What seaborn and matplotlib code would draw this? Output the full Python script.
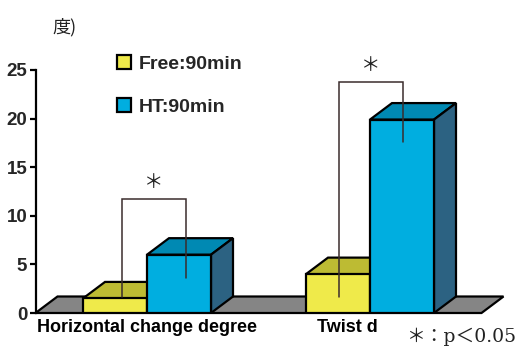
import numpy as np
import pandas as pd
import matplotlib
matplotlib.use("Agg")
import matplotlib.pyplot as plt
import seaborn as sns
from matplotlib.patches import Polygon, Patch
from matplotlib.colors import to_hex

# ---- data -------------------------------------------------------------
categories = ["Horizontal change degree", "Twist d"]
conditions = ["Free:90min", "HT:90min"]
free_values = [1.5, 4.0]
ht_values = [6.0, 19.9]
# lower ends of the bracket legs (Free leg, HT leg) and bracket heights
leg_bottom_free = [1.6, 1.6]
leg_bottom_ht = [3.6, 17.6]
bracket_heights = [11.7, 23.8]
y_ticks = [0, 5, 10, 15, 20, 25]

# ---- colours ----------------------------------------------------------
front = {"Free:90min": "#EFEA4A", "HT:90min": "#00AEE0"}
top = {"Free:90min": "#BDBB33", "HT:90min": "#0089B3"}
side = {"Free:90min": "#9A982A", "HT:90min": "#2C6282"}
floor_color = "#858585"
bracket_color = "#3A2C2C"

W, H = 518, 347
sns.set_theme(style="white")
plt.rcParams["font.family"] = ["Liberation Sans", "Noto Sans CJK JP", "DejaVu Sans"]

fig = plt.figure(figsize=(W / 100, H / 100), dpi=100)
fig.patch.set_facecolor("white")
# axes placed so that x in [-0.5, 1.5] and y in [0, 25] span the plotting area
x0_px, x1_px = 35.5, 481.5
y0_px, y1_px = 313, 70
ax = fig.add_axes([x0_px / W, 1 - y0_px / H, (x1_px - x0_px) / W, (y0_px - y1_px) / H])
ax.set_facecolor("none")

df = pd.DataFrame({
    "category": categories * 2,
    "condition": [c for c in conditions for _ in categories],
    "value": free_values + ht_values,
})

sns.barplot(data=df, x="category", y="value", hue="condition",
            hue_order=conditions, order=categories,
            palette=[front[c] for c in conditions], width=0.574,
            edgecolor="black", linewidth=1.6, saturation=1,
            legend=False, ax=ax, zorder=3)

ax.set_xlim(-0.5, 1.5)
ax.set_ylim(0, 25)

# depth of the pseudo-3D extrusion, in data units
dx = 22 / 223
dy = 16.5 / ((y0_px - y1_px) / 25)

# floor slab
floor = Polygon([(-0.5, 0), (-0.5 + dx, dy), (1.5 + dx, dy), (1.5, 0)],
                closed=True, facecolor=floor_color, edgecolor="black",
                linewidth=1.6, zorder=1, clip_on=False)
ax.add_patch(floor)

# top and side faces for every bar
front_hex = {to_hex(v): k for k, v in front.items()}
for p in list(ax.patches):
    if p is floor:
        continue
    cond = front_hex.get(to_hex(p.get_facecolor()))
    if cond is None:
        continue
    x, w, h = p.get_x(), p.get_width(), p.get_height()
    ax.add_patch(Polygon([(x, h), (x + dx, h + dy), (x + w + dx, h + dy), (x + w, h)],
                         closed=True, facecolor=top[cond], edgecolor="black",
                         linewidth=1.6, zorder=2, clip_on=False))
    ax.add_patch(Polygon([(x + w, 0), (x + w + dx, dy), (x + w + dx, h + dy), (x + w, h)],
                         closed=True, facecolor=side[cond], edgecolor="black",
                         linewidth=1.6, zorder=2, clip_on=False))

# significance brackets
bar_w = 0.574 / 2
bracket_shift = [0.031, 0.005]
for i in range(len(categories)):
    xl = i - bar_w / 2 + bracket_shift[i]
    xr = i + bar_w / 2 + bracket_shift[i]
    yb = bracket_heights[i]
    ax.plot([xl, xl, xr, xr], [leg_bottom_free[i], yb, yb, leg_bottom_ht[i]],
            color=bracket_color, linewidth=1.1, zorder=5, clip_on=False,
            solid_joinstyle="miter")
    ax.text((xl + xr) / 2, yb + 0.6, "＊", ha="center", va="bottom", fontsize=14,
            family=["Noto Sans CJK JP"], color="#222222", zorder=6)

# axes styling
for s in ["top", "right", "bottom"]:
    ax.spines[s].set_visible(False)
ax.spines["left"].set_color("black")
ax.spines["left"].set_linewidth(1.6)
ax.spines["left"].set_bounds(0, 25)
ax.set_yticks(y_ticks)
ax.set_yticklabels([str(t) for t in y_ticks], fontsize=13.5, fontweight="bold")
ax.tick_params(axis="y", direction="out", length=4, width=1.6, color="black",
               pad=2, left=True)
ax.set_xticks([])
ax.set_xlabel("")
ax.set_ylabel("")

# category labels under the floor
label_x = [0.0, 0.897]
for lx, name in zip(label_x, categories):
    ax.text(lx, -0.025, name, transform=ax.get_xaxis_transform(), ha="center",
            va="top", fontsize=13, fontweight="bold", color="black")

# legend
handles = [Patch(facecolor=front[c], edgecolor="black", linewidth=1.6) for c in conditions]
fig.legend(handles, conditions, loc="upper left",
           bbox_to_anchor=(117 / W, 1 - 55 / H), frameon=False,
           handlelength=0.72, handleheight=0.72, handletextpad=0.4,
           labelspacing=1.3, borderpad=0, borderaxespad=0,
           prop={"weight": "bold", "size": 14})

# unit label and significance note
fig.text(52 / W, 1 - 27 / H, "度)", ha="left", va="center", fontsize=13,
         family=["Noto Sans CJK JP"], color="#222222")
fig.text(516 / W, 1 - 337 / H, "＊：p＜0.05", ha="right", va="center",
         fontsize=13.5, family=["DejaVu Serif", "Noto Sans CJK JP"], color="#222222")

fig.savefig("out.png", dpi=100, facecolor="white")
